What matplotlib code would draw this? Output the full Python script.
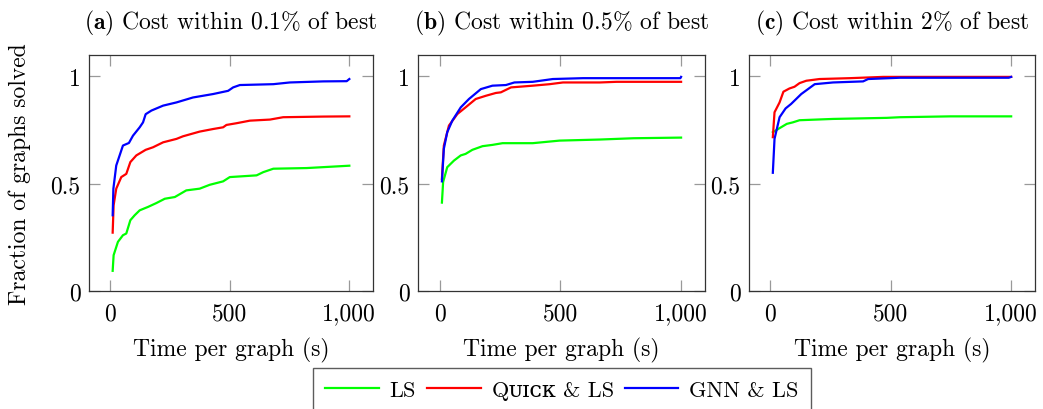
import matplotlib
matplotlib.use("Agg")
import matplotlib.pyplot as plt

plt.rcParams["font.family"] = ["cmr10", "DejaVu Serif"]
plt.rcParams["mathtext.fontset"] = "cm"
plt.rcParams["axes.unicode_minus"] = False
plt.rcParams["axes.formatter.use_mathtext"] = True

# Data (time in s, fraction of graphs solved)
titles = [r"$\mathbf{(a)}$ Cost within 0.1% of best",
          r"$\mathbf{(b)}$ Cost within 0.5% of best",
          r"$\mathbf{(c)}$ Cost within 2% of best"]
series_names = ["LS", "Qᴜɪᴄᴋ & LS", "GNN & LS"]
series_colors = ["#00ff00", "#ff0000", "#0000ff"]

# panel (a)
a_ls_t = [10, 14, 32, 53, 67, 84, 102, 123, 158, 193, 228, 270, 318, 374, 416, 472, 500, 612, 640, 682, 821, 1000]
a_ls_v = [0.094, 0.167, 0.229, 0.260, 0.268, 0.330, 0.353, 0.376, 0.392, 0.410, 0.430, 0.438, 0.469, 0.477, 0.495, 0.511, 0.531, 0.539, 0.554, 0.570, 0.573, 0.584]
a_quick_t = [10, 14, 25, 46, 67, 84, 109, 148, 179, 221, 277, 304, 374, 430, 472, 486, 528, 584, 668, 723, 891, 1000]
a_quick_v = [0.272, 0.400, 0.477, 0.531, 0.546, 0.601, 0.632, 0.658, 0.670, 0.693, 0.709, 0.721, 0.743, 0.755, 0.763, 0.774, 0.782, 0.794, 0.799, 0.810, 0.813, 0.814]
a_gnn_t = [10, 13, 25, 53, 78, 95, 123, 137, 148, 172, 221, 277, 346, 430, 493, 514, 542, 682, 751, 891, 989, 1000]
a_gnn_v = [0.353, 0.477, 0.585, 0.678, 0.690, 0.724, 0.763, 0.786, 0.824, 0.841, 0.864, 0.879, 0.902, 0.918, 0.933, 0.949, 0.960, 0.964, 0.972, 0.977, 0.978, 0.988]

# panel (b)
b_ls_t = [10, 15, 32, 60, 88, 108, 136, 178, 219, 261, 386, 497, 664, 803, 1000]
b_ls_v = [0.412, 0.508, 0.577, 0.608, 0.632, 0.639, 0.658, 0.675, 0.681, 0.689, 0.689, 0.701, 0.706, 0.712, 0.715]
b_quick_t = [10, 18, 39, 74, 108, 150, 192, 233, 254, 296, 386, 456, 511, 664, 733, 1000]
b_quick_v = [0.523, 0.678, 0.771, 0.825, 0.856, 0.895, 0.910, 0.923, 0.926, 0.949, 0.957, 0.964, 0.972, 0.972, 0.975, 0.975]
b_gnn_t = [10, 18, 32, 53, 88, 122, 171, 219, 275, 310, 386, 469, 594, 997, 1000]
b_gnn_v = [0.511, 0.663, 0.740, 0.794, 0.856, 0.895, 0.941, 0.957, 0.960, 0.972, 0.975, 0.988, 0.992, 0.992, 0.998]

# panel (c)
c_ls_t = [10, 38, 68, 93, 121, 260, 483, 538, 747, 1000]
c_ls_v = [0.740, 0.759, 0.779, 0.786, 0.796, 0.802, 0.807, 0.810, 0.814, 0.814]
c_quick_t = [10, 17, 38, 54, 79, 100, 121, 149, 204, 330, 469, 1000]
c_quick_v = [0.717, 0.833, 0.879, 0.929, 0.944, 0.952, 0.969, 0.980, 0.988, 0.992, 0.998, 0.998]
c_gnn_t = [10, 17, 38, 63, 86, 107, 128, 156, 184, 260, 385, 406, 538, 990, 1000]
c_gnn_v = [0.551, 0.709, 0.810, 0.851, 0.872, 0.895, 0.918, 0.941, 0.964, 0.972, 0.977, 0.988, 0.994, 0.994, 0.998]

panels = [
    [(a_ls_t, a_ls_v), (a_quick_t, a_quick_v), (a_gnn_t, a_gnn_v)],
    [(b_ls_t, b_ls_v), (b_quick_t, b_quick_v), (b_gnn_t, b_gnn_v)],
    [(c_ls_t, c_ls_v), (c_quick_t, c_quick_v), (c_gnn_t, c_gnn_v)],
]

xticks = [0, 500, 1000]
xtick_labels = ["0", "500", "1,000"]
yticks = [0, 0.5, 1]
ytick_labels = ["0", "0.5", "1"]

W, H = 1043, 410
fig = plt.figure(figsize=(W / 100, H / 100), dpi=100)

# axes boxes in pixels: left, right
boxes = [(89, 373), (418, 705), (749, 1035)]
top, bottom = 56, 292

fs = 17
lines = []
for i, (l, r) in enumerate(boxes):
    ax = fig.add_axes([l / W, 1 - bottom / H, (r - l) / W, (bottom - top) / H])
    for (t, v), name, col in zip(panels[i], series_names, series_colors):
        ln, = ax.plot(t, v, color=col, lw=1.6, label=name)
        if i == 0:
            lines.append(ln)
    ax.set_xlim(-89, 1099)
    ax.set_ylim(0, 1.1)
    ax.set_xticks(xticks, xtick_labels)
    ax.set_yticks(yticks, ytick_labels)
    ax.tick_params(direction="in", top=True, right=True, length=8, width=0.9,
                   color="0.6", labelsize=fs)
    ax.tick_params(axis="x", pad=8)
    ax.tick_params(axis="y", pad=6)
    for s in ax.spines.values():
        s.set_linewidth(0.9)
        s.set_color("0.2")
    ax.set_xlabel("Time per graph (s)", fontsize=fs, labelpad=9)
    ax.set_title(titles[i], fontsize=fs, pad=19)
    if i == 0:
        ax.set_ylabel("Fraction of graphs solved", fontsize=fs, labelpad=14)

fig.legend(lines, series_names, loc="upper center", ncol=3,
           bbox_to_anchor=(562 / W, 1 - 369 / H),
           prop={"family": ["cmr10", "DejaVu Serif"], "size": 16},
           frameon=True, fancybox=False, edgecolor="0.2",
           handlelength=2.4, columnspacing=0.5, handletextpad=0.5,
           borderpad=0.55, borderaxespad=0)

plt.savefig("out.png", dpi=100)
